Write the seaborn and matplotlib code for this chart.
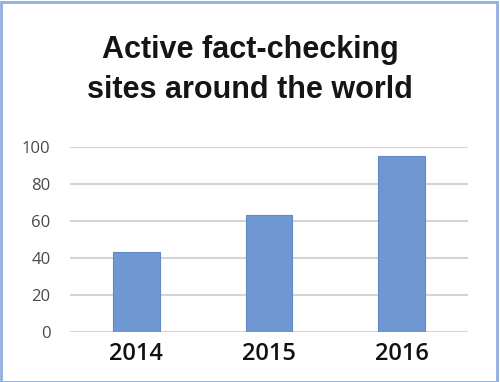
import matplotlib
matplotlib.use("Agg")
import matplotlib.pyplot as plt
from matplotlib.patches import Rectangle
import seaborn as sns
import pandas as pd

years = ["2014", "2015", "2016"]
sites = [43, 63, 95]
title = "Active fact-checking\nsites around the world"

df = pd.DataFrame({"year": years, "sites": sites})

sns.set_style("white")
fig = plt.figure(figsize=(5, 3.82), dpi=100)
ax = fig.add_axes([0.14, 0.131, 0.796, 0.484])

sns.barplot(data=df, x="year", y="sites", color="#6f98d2", width=0.35,
            edgecolor="#5f89c6", linewidth=0.8, saturation=1, ax=ax)

ax.set_ylim(0, 100)
ax.set_yticks(range(0, 101, 20))
ax.yaxis.grid(True, color="#d4d4d4", linewidth=1.5)
ax.set_axisbelow(True)
for s in ax.spines.values():
    s.set_visible(False)
ax.set_xlabel("")
ax.set_ylabel("")
ax.tick_params(axis="y", length=0, pad=14, labelsize=12, labelcolor="#4a4a4a")
ax.tick_params(axis="x", length=0, pad=7, labelsize=17, labelcolor="#111111")
for lab in ax.get_xticklabels():
    lab.set_family("Open Sans")
    lab.set_weight("semibold")
for lab in ax.get_yticklabels():
    lab.set_family("Open Sans")

fig.text(0.5, 0.817, title, ha="center", va="center", fontsize=22,
         family="Liberation Sans", weight="bold", color="#151515", linespacing=1.42)

# thin blue frame around the picture
fig.patches.append(Rectangle((0.002, 0.0), 0.992, 0.995, transform=fig.transFigure,
                             fill=False, edgecolor="#8eb0e0", linewidth=2))

fig.savefig("out.png", dpi=100)
